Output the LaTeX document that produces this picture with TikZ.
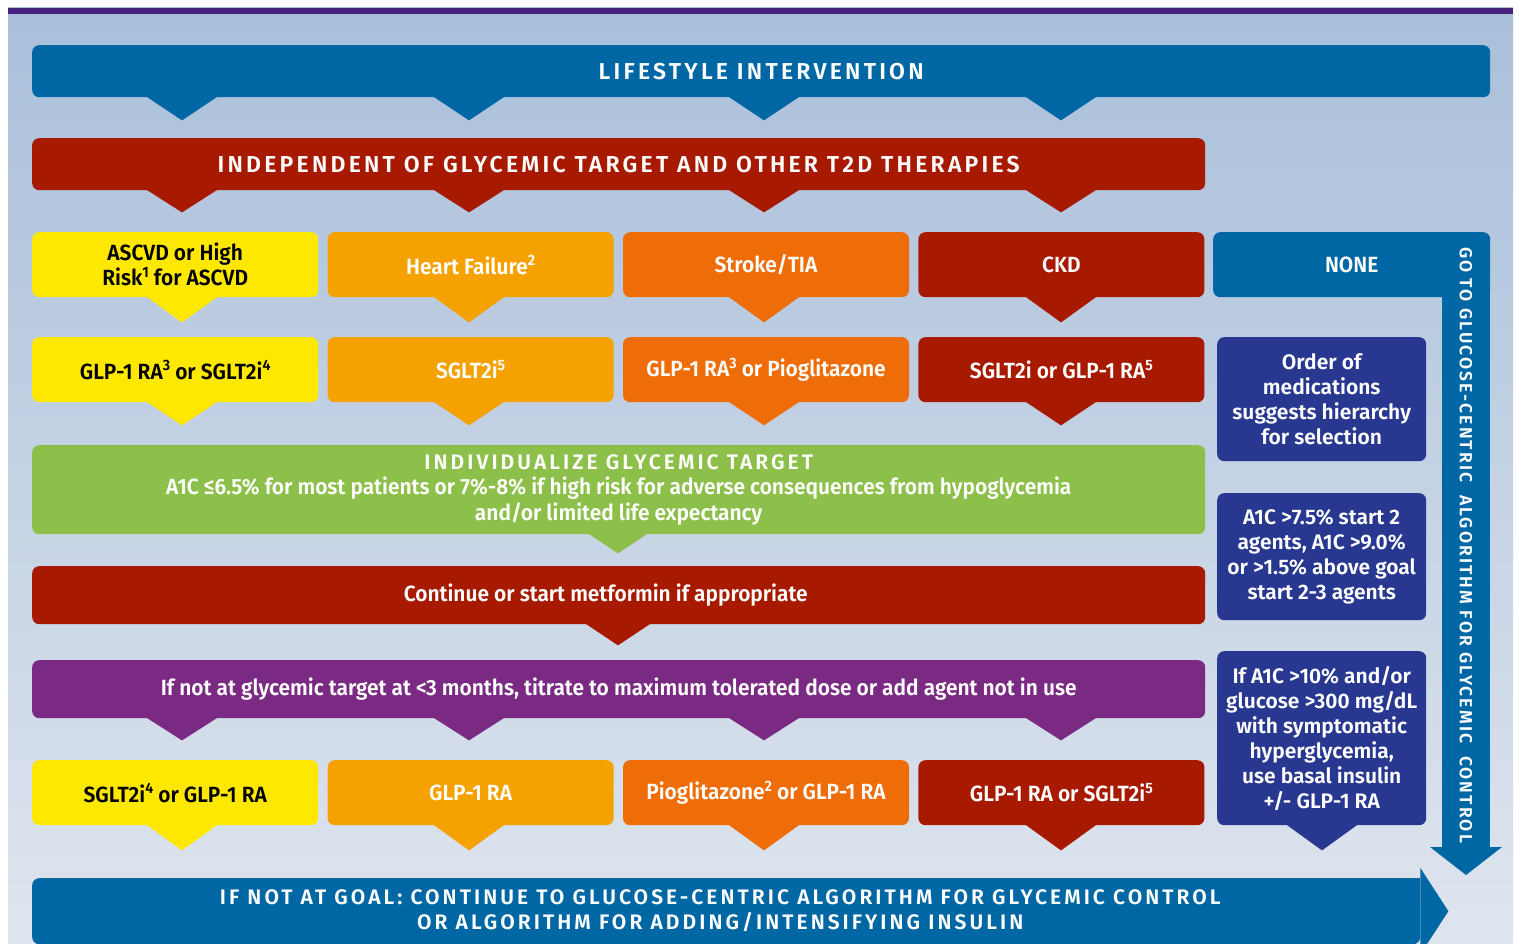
\documentclass[tikz,border=0pt]{standalone}
\usepackage{fontspec}
\setmainfont{Fira Sans}[BoldFont={Fira Sans SemiBold}]
\newfontfamily\narrowfont{Fira Sans}[FakeStretch=0.95, BoldFont={Fira Sans SemiBold}]
\usepackage{xcolor}
\usepackage{tikz}
\usetikzlibrary{positioning}
\definecolor{bgtop}{HTML}{A9BFDA}
\definecolor{bgbot}{HTML}{DFE5EE}
\definecolor{topline}{HTML}{45237D}
\definecolor{adablue}{HTML}{0067A5}
\definecolor{adared}{HTML}{A81A00}
\definecolor{adayellow}{HTML}{FFE800}
\definecolor{adaamber}{HTML}{F5A200}
\definecolor{adaorange}{HTML}{EE6D08}
\definecolor{adanavy}{HTML}{283891}
\definecolor{adagreen}{HTML}{8DC04A}
\definecolor{adapurple}{HTML}{7B2A84}

% spaced capitals for the banners
\newcommand{\headfont}{\normalfont\fontsize{21}{25}\selectfont\bfseries\addfontfeatures{LetterSpace=14.5}}
\newcommand{\bigheadfont}{\normalfont\fontsize{23}{25}\selectfont\bfseries\addfontfeatures{LetterSpace=14}}
% footnote numbers
\newcommand{\fn}[1]{\raisebox{0.4em}{\fontsize{15}{15}\selectfont #1}}
% tip under a box: [half width] colour, point on the lower edge, depth
\newcommand{\calltip}[4][36]{%
  \fill[#2] ([xshift=-#1pt, yshift=1pt]#3) -- ([yshift=-#4pt]#3)
    -- ([xshift=#1pt, yshift=1pt]#3) -- cycle;}

\begin{document}
\begin{tikzpicture}[x=1pt, y=-1pt,
  box/.style={rounded corners=7pt, inner sep=0pt, align=center, text=white},
  banner/.style={box, anchor=north west, font=\bigheadfont},
  cell/.style={box, minimum width=286pt, minimum height=65pt,
    font=\narrowfont\fontsize{22}{25}\selectfont\bfseries},
  note/.style={box, fill=adanavy, anchor=north west, minimum width=209pt,
    font=\fontsize{21}{25}\selectfont\bfseries}]

  \useasboundingbox (0,0) rectangle (1519,944);
  \clip (0,0) rectangle (1519,944);
  \fill[white] (0,0) rectangle (1519,944);
  \shade[top color=bgtop, bottom color=bgbot] (8,8) rectangle (1513,944);
  \fill[topline] (8,8) rectangle (1513,14);

  % column positions of the tips
  \coordinate (p1) at (182,0);
  \coordinate (p2) at (469,0);
  \coordinate (p3) at (764,0);
  \coordinate (p4) at (1061,0);
  \coordinate (pm) at (618,0);
  \coordinate (ps) at (1322,0);

  % banners
  \node[banner, fill=adablue, minimum width=1458pt, minimum height=52pt] (life) at (32,45)
    {LIFESTYLE INTERVENTION};
  \foreach \p in {p1,p2,p3,p4} {\calltip{adablue}{\p |- life.south}{23}}

  \node[banner, fill=adared, minimum width=1173pt, minimum height=52pt] (indep) at (32,138)
    {INDEPENDENT OF GLYCEMIC TARGET AND OTHER T2D THERAPIES};
  \foreach \p in {p1,p2,p3,p4} {\calltip{adared}{\p |- indep.south}{22}}

  % conditions
  \node[cell, fill=adayellow, text=black, anchor=north west] (risk) at (32,232)
    {ASCVD or High\\Risk\fn{1} for ASCVD};
  \node[cell, fill=adaamber, right=9pt of risk] (hf) {Heart Failure\fn{2}};
  \node[cell, fill=adaorange, right=9pt of hf] (stroke) {Stroke/TIA};
  \node[cell, fill=adared, right=9pt of stroke] (ckd) {CKD};
  \node[cell, fill=adablue, anchor=north west, minimum width=277pt] (none) at (1213,232) {NONE};
  \calltip{adayellow}{p1 |- risk.south}{25}
  \calltip{adaamber}{p2 |- hf.south}{25}
  \calltip{adaorange}{p3 |- stroke.south}{25}
  \calltip{adared}{p4 |- ckd.south}{25}

  % first choice
  \node[cell, fill=adayellow, text=black, anchor=north west] (riskdrug) at (32,337)
    {GLP-1 RA\fn{3} or SGLT2i\fn{4}};
  \node[cell, fill=adaamber, right=9pt of riskdrug] (hfdrug) {SGLT2i\fn{5}};
  \node[cell, fill=adaorange, right=9pt of hfdrug] (strokedrug)
    {GLP-1 RA\fn{3} or Pioglitazone};
  \node[cell, fill=adared, right=9pt of strokedrug] (ckddrug) {SGLT2i or GLP-1 RA\fn{5}};
  \calltip{adayellow}{p1 |- riskdrug.south}{23}
  \calltip{adaamber}{p2 |- hfdrug.south}{23}
  \calltip{adaorange}{p3 |- strokedrug.south}{23}
  \calltip{adared}{p4 |- ckddrug.south}{23}

  % target and metformin
  \node[box, fill=adagreen, anchor=north west, minimum width=1173pt, minimum height=89pt,
        font=\narrowfont\fontsize{22}{25.5}\selectfont\bfseries] (target) at (32,445)
    {{\headfont INDIVIDUALIZE GLYCEMIC TARGET}\\
     A1C ≤6.5\% for most patients or 7\%-8\% if high risk for adverse consequences from hypoglycemia\\
     and/or limited life expectancy};
  \calltip[30]{adagreen}{pm |- target.south}{19}

  \node[cell, fill=adared, anchor=north west, minimum width=1173pt, minimum height=58pt] (metf)
    at (32,566) {Continue or start metformin if appropriate\hspace*{26pt}};
  \calltip[33]{adared}{pm |- metf.south}{21}

  \node[cell, fill=adapurple, anchor=north west, minimum width=1173pt, minimum height=58pt] (titrate)
    at (32,660) {If not at glycemic target at <3 months, titrate to maximum tolerated dose or add agent not in use};
  \foreach \p in {p1,p2,p3,p4} {\calltip{adapurple}{\p |- titrate.south}{22}}

  % add-on choice
  \node[cell, fill=adayellow, text=black, anchor=north west] (riskadd) at (32,760)
    {SGLT2i\fn{4} or GLP-1 RA};
  \node[cell, fill=adaamber, right=9pt of riskadd] (hfadd) {GLP-1 RA};
  \node[cell, fill=adaorange, right=9pt of hfadd] (strokeadd)
    {Pioglitazone\fn{2} or GLP-1 RA};
  \node[cell, fill=adared, right=9pt of strokeadd] (ckdadd) {GLP-1 RA or SGLT2i\fn{5}};
  \calltip{adayellow}{p1 |- riskadd.south}{25}
  \calltip{adaamber}{p2 |- hfadd.south}{25}
  \calltip{adaorange}{p3 |- strokeadd.south}{25}
  \calltip{adared}{p4 |- ckdadd.south}{25}

  % side notes
  \node[note, minimum height=124pt] (order) at (1217,337)
    {Order of\\medications\\suggests hierarchy\\for selection};
  \node[note, minimum height=127pt] (start) at (1217,493)
    {A1C >7.5\% start 2\\agents, A1C >9.0\%\\or >1.5\% above goal\\start 2-3 agents};
  \node[note, minimum height=174pt] (insulin) at (1217,651)
    {If A1C >10\% and/or\\glucose >300 mg/dL\\with symptomatic\\hyperglycemia,\\use basal insulin\\+/- GLP-1 RA};
  \calltip{adanavy}{ps |- insulin.south}{25}

  % down arrow from NONE
  \coordinate (barfoot) at (1466,847);
  \fill[adablue] ([xshift=-24pt]barfoot |- none.center) rectangle ([xshift=24pt]barfoot);
  \fill[adablue] ([xshift=-36pt]barfoot) -- ([xshift=36pt]barfoot) -- ([yshift=-28pt]barfoot) -- cycle;
  \node[rotate=-90, text=white, font=\normalfont\fontsize{17.5}{18}\selectfont\bfseries\addfontfeatures{LetterSpace=12}]
    (gotext) at (1466,545) {GO TO GLUCOSE-CENTRIC\ \ ALGORITHM FOR GLYCEMIC\ \ CONTROL};

  % final arrow
  \node[box, fill=adablue, anchor=north west, minimum width=1388pt, minimum height=66pt] (goalbox) at (32,878) {};
  \fill[adablue] ([yshift=12pt]goalbox.south west) rectangle (goalbox.east);
  \fill[adablue] ([xshift=-8pt]goalbox.north east) rectangle (goalbox.east);
  \fill[adablue] ([yshift=10pt]goalbox.north east) -- ([xshift=28pt]goalbox.east)
    -- ([yshift=-43pt]goalbox.east) -- cycle;
  \node[align=center, text=white, font=\headfont] (goal) at ([xshift=-6pt]goalbox.center)
    {IF NOT AT GOAL: CONTINUE TO GLUCOSE-CENTRIC ALGORITHM FOR GLYCEMIC CONTROL\\
     OR ALGORITHM FOR ADDING/INTENSIFYING INSULIN};
\end{tikzpicture}
\end{document}
